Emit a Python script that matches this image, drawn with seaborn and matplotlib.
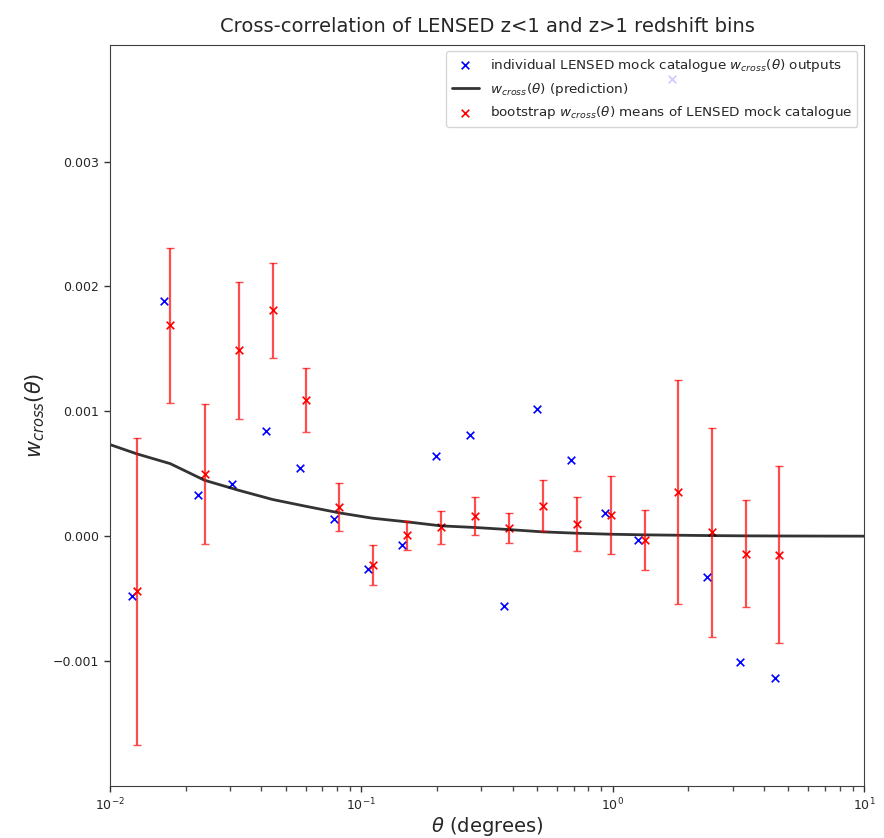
#!/usr/bin/env python3
"""
Cross-correlation of LENSED z<1 and z>1 redshift bins
Individual mock outputs, bootstrap means with errors, and the prediction curve
"""

import matplotlib
matplotlib.use('Agg')
import matplotlib.pyplot as plt
from matplotlib.ticker import LogLocator, NullFormatter
import seaborn as sns
import numpy as np

# individual LENSED mock catalogue outputs (blue)
theta_indiv = [0.0122, 0.0164, 0.0225, 0.0307, 0.0419, 0.0570, 0.0782, 0.1066, 0.1456, 0.1983,
               0.2707, 0.3687, 0.5003, 0.6831, 0.9304, 1.266, 1.723, 2.369, 3.223, 4.428]
w_indiv = [-0.000477, 0.001882, 0.000328, 0.000416, 0.000842, 0.000544, 0.000136, -0.000264,
           -0.000067, 0.000640, 0.000808, -0.000555, 0.001018, 0.000613, 0.000187, -0.000027,
           0.003664, -0.000330, -0.001010, -0.001138]

# bootstrap means (red) with symmetric errors
theta_boot = [0.01277, 0.01738, 0.0238, 0.03251, 0.04441, 0.06008, 0.08177, 0.1110, 0.1520, 0.2076,
              0.2835, 0.3882, 0.5271, 0.7198, 0.9854, 1.346, 1.816, 2.480, 3.385, 4.606]
w_boot = [-0.00044, 0.00169, 0.000498, 0.00149, 0.00181, 0.00109, 0.000234, -0.000227,
          0.000006, 0.00007, 0.000162, 0.000068, 0.000244, 0.000101, 0.00017, -0.00003,
          0.000355, 0.00003, -0.000139, -0.000147]
w_boot_err = [0.00123, 0.000622, 0.000562, 0.000549, 0.00038, 0.000254, 0.000194, 0.00016,
              0.000118, 0.000134, 0.000149, 0.000122, 0.000204, 0.000216, 0.000315, 0.000243,
              0.000899, 0.000836, 0.000427, 0.000707]

# prediction curve
theta_pred = [0.01, 0.01277, 0.01738, 0.0238, 0.03251, 0.04441, 0.06008, 0.08177, 0.1110, 0.1520,
              0.2076, 0.2835, 0.3882, 0.5271, 0.7198, 0.9854, 1.346, 1.816, 2.480, 3.385, 4.606, 10.0]
w_pred = [0.000734, 0.00066, 0.000581, 0.000448, 0.000368, 0.000294, 0.00024, 0.000187, 0.000144,
          0.000115, 0.000083, 0.00007, 0.000053, 0.000035, 0.000024, 0.000016, 0.000011, 0.000008,
          0.000005, 0.000003, 0.000002, 0.0000005]


def main():
    sns.set_style('ticks')

    fig = plt.figure(figsize=(8.84, 8.38), dpi=100)
    ax = fig.add_axes([0.1244, 0.0621, 0.853, 0.8845])

    sns.scatterplot(x=theta_indiv, y=w_indiv, ax=ax, marker='x', color='blue', s=30,
                    linewidth=1.2, label=r'individual LENSED mock catalogue $w_{cross}(\theta)$ outputs')
    sns.lineplot(x=theta_pred, y=w_pred, ax=ax, color='black', linewidth=2, alpha=0.8,
                 label=r'$w_{cross}(\theta)$ (prediction)')
    ax.errorbar(theta_boot, w_boot, yerr=w_boot_err, fmt='none', ecolor='red', alpha=0.7,
                elinewidth=1.6, capsize=3)
    sns.scatterplot(x=theta_boot, y=w_boot, ax=ax, marker='x', color='red', s=30,
                    linewidth=1.2, label=r'bootstrap $w_{cross}(\theta)$ means of LENSED mock catalogue')

    ax.set_xscale('log')
    ax.set_xlim(1e-2, 1e1)
    ax.xaxis.set_minor_locator(LogLocator(base=10, subs=np.arange(2, 10)))
    ax.xaxis.set_minor_formatter(NullFormatter())
    ax.set_ylim(-0.002, 0.003936)
    ax.set_yticks([-0.001, 0.0, 0.001, 0.002, 0.003])
    ax.tick_params(which='major', labelsize=9, length=4.5, width=1, color='0.2')
    ax.tick_params(axis='x', which='minor', length=3.5, width=1, color='0.3', bottom=True)

    for spine in ax.spines.values():
        spine.set_visible(True)
        spine.set_color('0.25')

    ax.set_title('Cross-correlation of LENSED z<1 and z>1 redshift bins', fontsize=14, pad=9)
    ax.set_xlabel(r'$\theta$ (degrees)', fontsize=14, labelpad=1)
    ax.set_ylabel(r'$w_{cross}(\theta)$', fontsize=15)
    ax.legend(loc='upper right', fontsize=9.7, frameon=True, framealpha=0.8)

    fig.savefig('out.png', dpi=100)
    plt.close(fig)


if __name__ == "__main__":
    main()
